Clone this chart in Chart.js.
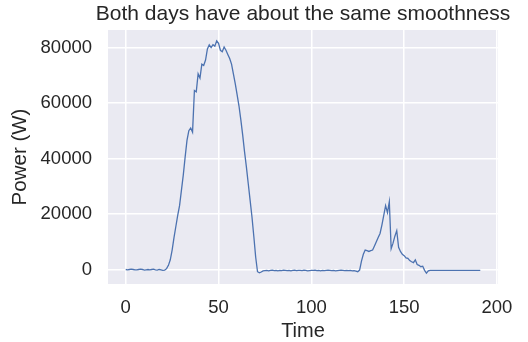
<!DOCTYPE html>
<html>
<head>
<meta charset="utf-8">
<script src="https://cdn.jsdelivr.net/npm/chart.js@4.4.1/dist/chart.umd.min.js"></script>
<style>
  html, body { margin: 0; background: #fff; }
</style>
</head>
<body>
<canvas id="c" width="528" height="342"></canvas>
<script>
// Leistung pro Zeitschritt (W), zwei Tage hintereinander
const power = [
  0, -100, 0, 100, 0, -100, -100, 0, 100, 0,
  -200, -100, 0, -100, 0, 100, -100, -200, 0, -100,
  -300, -200, 300, 1500, 3500, 7000, 11500, 15500, 19500, 23000,
  28500, 34000, 40500, 46500, 50000, 51000, 49500, 64500, 64000, 70500,
  69000, 74000, 73500, 75500, 79500, 81000, 80000, 81000, 80500, 82400,
  81500, 79000, 78500, 80200, 79000, 77500, 76000, 74000, 70500, 67000,
  63000, 59000, 54000, 48500, 42500, 37000, 31000, 25000, 19000, 12000,
  4500, -800, -1200, -900, -500,
  -400, -300, -500, -300, -200, -400, -300, -500, -300, -400,
  -200, -300, -400, -300, -500, -300, -200, -400, -300, -300,
  -400, -200, -300, -500, -400, -300, -300, -200, -400, -300,
  -500, -300, -400, -300, -200, -300, -400, -300, -500, -400,
  -300, -200, -300, -400, -300, -400, -300, -500, -400, -600,
  -800, -200, 3000, 5500, 7000, 6800, 6500, 6800, 7000, 8500,
  10000, 11500, 13000, 16000, 19500, 23000, 20500, 24400, 7500, 9500,
  12000, 14000, 8000, 6500, 5500, 5000, 4200, 4000, 3200, 2800,
  2500, 3500, 1800, 1500, 1000, 1200, -300, -1300, -500,
  -300, -300, -300, -300, -300, -300, -300, -300, -300, -300,
  -300, -300, -300, -300, -300, -300, -300, -300, -300, -300,
  -300, -300, -300, -300, -300, -300, -300, -300
];
const xTicks = [0, 50, 100, 150, 200];
const yTicks = [0, 20000, 40000, 60000, 80000];
const chartTitle = "Both days have about the same smoothness";

const FONT = "'Liberation Sans', Arial, sans-serif";
const TEXT = "#262626";
const PANEL = "#eaeaf2";

// grauer Hintergrund im Plotbereich, Titel mittig über dem Plotbereich
// (der eingebaute Titel würde bei fullSize:false auf die Plotbreite gestaucht)
const panel = {
  id: "panel",
  beforeDraw(chart) {
    const { left, top, width, height } = chart.chartArea;
    const ctx = chart.ctx;
    ctx.save();
    ctx.fillStyle = PANEL;
    ctx.fillRect(left, top, width, height);
    ctx.restore();
  },
  afterDraw(chart) {
    const { left, right } = chart.chartArea;
    const ctx = chart.ctx;
    ctx.save();
    ctx.font = "21px " + FONT;
    ctx.fillStyle = TEXT;
    ctx.textAlign = "center";
    ctx.textBaseline = "alphabetic";
    ctx.fillText(chartTitle, (left + right) / 2, 20);
    ctx.restore();
  },
};

const plain = (v) => String(v);

new Chart(document.getElementById("c"), {
  type: "line",
  data: {
    datasets: [{
      data: power.map((v, i) => ({ x: i, y: v })),
      borderColor: "#4c72b0",
      borderWidth: 1.3,
      pointRadius: 0,
      tension: 0,
      fill: false,
    }],
  },
  options: {
    responsive: false,
    animation: false,
    layout: { padding: { top: 30, right: 30, bottom: 0, left: 0 } },
    plugins: {
      legend: { display: false },
      tooltip: { enabled: false },
      title: { display: false },
    },
    scales: {
      x: {
        type: "linear",
        min: -9.55,
        max: 200.55,
        afterBuildTicks: (s) => { s.ticks = xTicks.map((v) => ({ value: v })); },
        afterFit: (s) => { s.height = 58; },
        grid: { color: "#ffffff", lineWidth: 1.5, drawTicks: false },
        border: { display: false },
        ticks: { color: TEXT, font: { family: FONT, size: 18.5 }, padding: 13, maxRotation: 0, callback: plain },
        title: { display: true, text: "Time", color: TEXT, font: { family: FONT, size: 20 }, padding: { top: 0, bottom: -1 } },
      },
      y: {
        min: -5225,
        max: 86306,
        afterBuildTicks: (s) => { s.ticks = yTicks.map((v) => ({ value: v })); },
        afterFit: (s) => { s.width = 108; },
        grid: { color: "#ffffff", lineWidth: 1.5, drawTicks: false },
        border: { display: false },
        ticks: { color: TEXT, font: { family: FONT, size: 18.5 }, padding: 16, callback: plain },
        title: { display: true, text: "Power (W)", color: TEXT, font: { family: FONT, size: 20.5 }, padding: { top: 8, bottom: 0 } },
      },
    },
  },
  plugins: [panel],
});
</script>
</body>
</html>
